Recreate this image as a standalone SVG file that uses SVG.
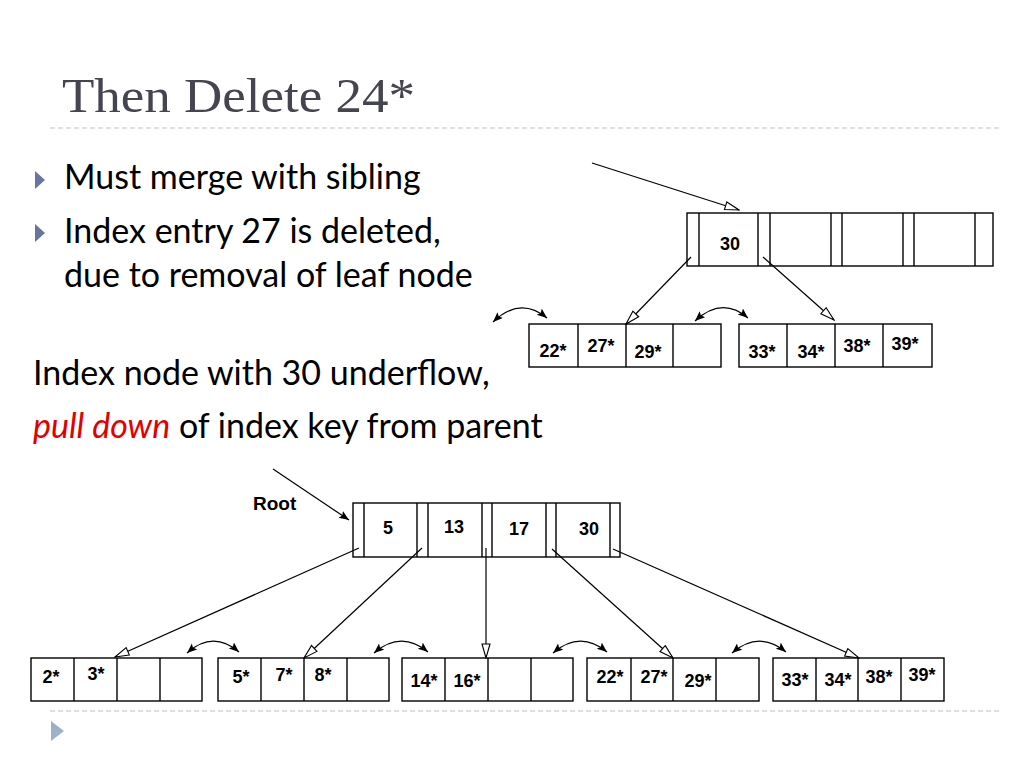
<svg xmlns="http://www.w3.org/2000/svg" width="1024" height="768" viewBox="0 0 1024 768">
<style>
.title{font-family:"Liberation Serif",serif;font-size:48px;fill:#45454f}
.body{font-family:Lato,"Liberation Sans",sans-serif;font-size:34px;fill:#000}
.red{fill:#e00000;font-style:italic}
.k{font-family:"Liberation Sans",Arial,sans-serif;font-weight:bold;font-size:18px;fill:#000;text-anchor:middle}
.box{fill:#fff;stroke:#000;stroke-width:1.4}
.div{stroke:#000;stroke-width:1.4}
.ln{fill:none;stroke:#000;stroke-width:1.2}
.dash{stroke:#b7c3d0;stroke-width:1.2;stroke-dasharray:5,3}
</style>
<defs>
<marker id="hollow" markerUnits="userSpaceOnUse" markerWidth="16" markerHeight="12" viewBox="0 0 16 12" refX="15" refY="5" orient="auto">
<path d="M1,1 L15,5 L1,9 z" fill="#fff" stroke="#000" stroke-width="1.1"/>
</marker>
<marker id="solid" markerUnits="userSpaceOnUse" markerWidth="11" markerHeight="9" viewBox="0 0 11 9" refX="10" refY="4" orient="auto-start-reverse">
<path d="M0,0 L10,4 L0,8 L2,4 z" fill="#000"/>
</marker>
</defs>
<rect width="1024" height="768" fill="#fff"/>

<g id="title">
<text class="title" x="62" y="112" textLength="353" lengthAdjust="spacingAndGlyphs">Then Delete 24*</text>
<line class="dash" x1="50" y1="128" x2="1000" y2="128"/>
</g>

<g id="bullets">
<polygon points="35,171 45,180 35,189" fill="#6b739f"/>
<text class="body" x="64" y="189">Must merge with sibling</text>
<polygon points="35,224 45,233 35,242" fill="#6b739f"/>
<text class="body" x="64" y="243">Index entry 27 is deleted,</text>
<text class="body" x="64" y="287">due to removal of leaf node</text>
<text class="body" x="33" y="385">Index node with 30 underflow,</text>
<text class="body" x="33" y="438"><tspan class="red">pull down</tspan> of index key from parent</text>
</g>

<g id="footer">
<line class="dash" x1="50" y1="711" x2="1000" y2="711"/>
<polygon points="51,721 64,731 51,741" fill="#9cb2cc"/>
</g>

<!-- top diagram -->
<g id="top-index">
<rect class="box" x="687" y="213" width="306" height="53"/>
<line class="div" x1="699" y1="213" x2="699" y2="266"/>
<line class="div" x1="758" y1="213" x2="758" y2="266"/>
<line class="div" x1="770" y1="213" x2="770" y2="266"/>
<line class="div" x1="831" y1="213" x2="831" y2="266"/>
<line class="div" x1="842" y1="213" x2="842" y2="266"/>
<line class="div" x1="903" y1="213" x2="903" y2="266"/>
<line class="div" x1="914" y1="213" x2="914" y2="266"/>
<line class="div" x1="975" y1="213" x2="975" y2="266"/>
<text class="k" x="730" y="250">30</text>
</g>
<g id="top-leaf1">
<rect class="box" x="529" y="324" width="192" height="43"/>
<line class="div" x1="578" y1="324" x2="578" y2="367"/>
<line class="div" x1="626" y1="324" x2="626" y2="367"/>
<line class="div" x1="673" y1="324" x2="673" y2="367"/>
<text class="k" x="553" y="357">22*</text>
<text class="k" x="601" y="352">27*</text>
<text class="k" x="648" y="358">29*</text>
</g>
<g id="top-leaf2">
<rect class="box" x="739" y="324" width="193" height="43"/>
<line class="div" x1="787" y1="324" x2="787" y2="367"/>
<line class="div" x1="835" y1="324" x2="835" y2="367"/>
<line class="div" x1="883" y1="324" x2="883" y2="367"/>
<text class="k" x="762" y="358">33*</text>
<text class="k" x="811" y="358">34*</text>
<text class="k" x="857" y="352">38*</text>
<text class="k" x="905" y="350">39*</text>
</g>

<!-- bottom diagram -->
<g id="root">
<text class="k" x="253" y="510" style="text-anchor:start;font-size:19px">Root</text>
<rect class="box" x="353" y="503" width="267" height="54"/>
<line class="div" x1="364" y1="503" x2="364" y2="557"/>
<line class="div" x1="417" y1="503" x2="417" y2="557"/>
<line class="div" x1="428" y1="503" x2="428" y2="557"/>
<line class="div" x1="482" y1="503" x2="482" y2="557"/>
<line class="div" x1="492" y1="503" x2="492" y2="557"/>
<line class="div" x1="546" y1="503" x2="546" y2="557"/>
<line class="div" x1="556" y1="503" x2="556" y2="557"/>
<line class="div" x1="610" y1="503" x2="610" y2="557"/>
<text class="k" x="388" y="534">5</text>
<text class="k" x="454" y="533">13</text>
<text class="k" x="519" y="535">17</text>
<text class="k" x="589" y="535">30</text>
</g>
<g id="leaf1">
<rect class="box" x="31" y="658" width="171" height="43"/>
<line class="div" x1="74" y1="658" x2="74" y2="701"/>
<line class="div" x1="117" y1="658" x2="117" y2="701"/>
<line class="div" x1="160" y1="658" x2="160" y2="701"/>
<text class="k" x="51" y="683">2*</text>
<text class="k" x="96" y="680">3*</text>
</g>
<g id="leaf2">
<rect class="box" x="218" y="658" width="171" height="43"/>
<line class="div" x1="261" y1="658" x2="261" y2="701"/>
<line class="div" x1="304" y1="658" x2="304" y2="701"/>
<line class="div" x1="347" y1="658" x2="347" y2="701"/>
<text class="k" x="241" y="683">5*</text>
<text class="k" x="284" y="681">7*</text>
<text class="k" x="323" y="681">8*</text>
</g>
<g id="leaf3">
<rect class="box" x="402" y="658" width="171" height="43"/>
<line class="div" x1="445" y1="658" x2="445" y2="701"/>
<line class="div" x1="488" y1="658" x2="488" y2="701"/>
<line class="div" x1="531" y1="658" x2="531" y2="701"/>
<text class="k" x="424" y="687">14*</text>
<text class="k" x="467" y="687">16*</text>
</g>
<g id="leaf4">
<rect class="box" x="587" y="658" width="172" height="43"/>
<line class="div" x1="631" y1="658" x2="631" y2="701"/>
<line class="div" x1="673" y1="658" x2="673" y2="701"/>
<line class="div" x1="716" y1="658" x2="716" y2="701"/>
<text class="k" x="610" y="683">22*</text>
<text class="k" x="654" y="683">27*</text>
<text class="k" x="698" y="687">29*</text>
</g>
<g id="leaf5">
<rect class="box" x="773" y="658" width="171" height="43"/>
<line class="div" x1="816" y1="658" x2="816" y2="701"/>
<line class="div" x1="858" y1="658" x2="858" y2="701"/>
<line class="div" x1="901" y1="658" x2="901" y2="701"/>
<text class="k" x="795" y="686">33*</text>
<text class="k" x="838" y="686">34*</text>
<text class="k" x="879" y="683">38*</text>
<text class="k" x="922" y="681">39*</text>
</g>

<g id="connectors">
<line class="ln" x1="592" y1="163" x2="739" y2="210" marker-end="url(#hollow)"/>
<line class="ln" x1="691" y1="257" x2="626" y2="324" marker-end="url(#hollow)"/>
<line class="ln" x1="763" y1="257" x2="834" y2="320" marker-end="url(#hollow)"/>
<path class="ln" d="M493,322 Q520,296 547,318" marker-start="url(#solid)" marker-end="url(#solid)"/>
<path class="ln" d="M695,321 Q722,296 748,318" marker-start="url(#solid)" marker-end="url(#solid)"/>

<line class="ln" x1="273" y1="469" x2="349" y2="520" marker-end="url(#solid)"/>
<line class="ln" x1="359" y1="548" x2="115" y2="657" marker-end="url(#hollow)"/>
<line class="ln" x1="422" y1="548" x2="304" y2="658" marker-end="url(#hollow)"/>
<line class="ln" x1="486" y1="548" x2="486" y2="658" marker-end="url(#hollow)"/>
<line class="ln" x1="552" y1="549" x2="673" y2="658" marker-end="url(#hollow)"/>
<line class="ln" x1="613" y1="549" x2="859" y2="658" marker-end="url(#hollow)"/>
<path class="ln" d="M187,653 Q213,630 239,652" marker-start="url(#solid)" marker-end="url(#solid)"/>
<path class="ln" d="M374,653 Q401,630 428,652" marker-start="url(#solid)" marker-end="url(#solid)"/>
<path class="ln" d="M553,653 Q580,630 607,652" marker-start="url(#solid)" marker-end="url(#solid)"/>
<path class="ln" d="M732,653 Q759,630 786,652" marker-start="url(#solid)" marker-end="url(#solid)"/>
</g>
</svg>
